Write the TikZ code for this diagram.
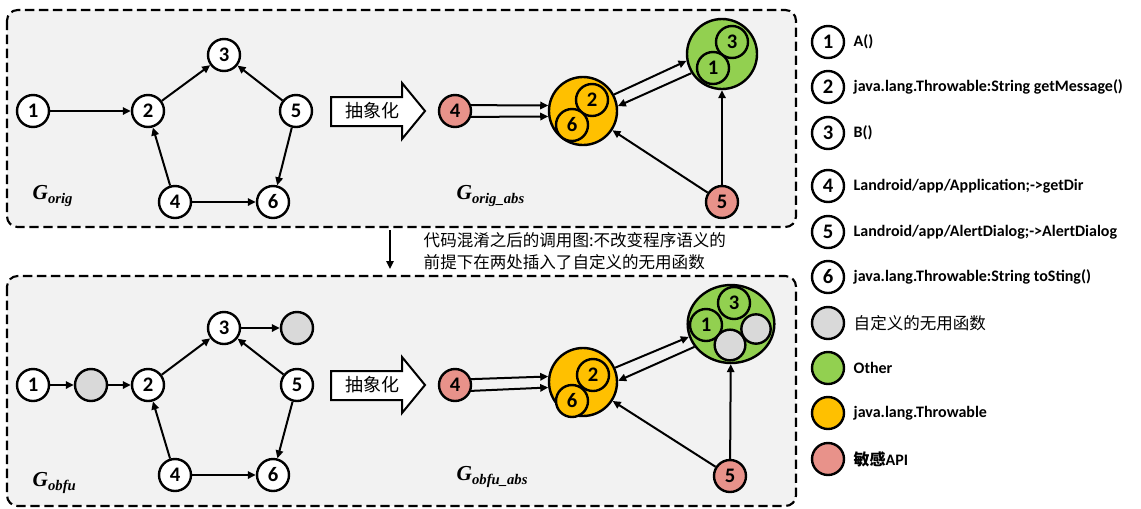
\documentclass[tikz,border=0pt]{standalone}
\usepackage{fontspec}
\setmainfont{Carlito}
\newfontfamily\cjk{Noto Sans CJK SC}
\newfontfamily\gfont{Liberation Serif}
\usetikzlibrary{arrows.meta,shapes.geometric}

\definecolor{panelgray}{HTML}{F2F2F2}
\definecolor{dummygray}{HTML}{D9D9D9}
\definecolor{othergreen}{HTML}{92D050}
\definecolor{throwyellow}{HTML}{FFC000}
\definecolor{apired}{HTML}{E8928A}

\newcommand{\gname}[1]{{\gfont\bfseries\itshape G\raisebox{-3.5pt}{\fontsize{11}{11}\selectfont #1}}}

\tikzset{
  fn/.style={circle, draw, line width=1.8pt, fill=white, minimum size=24pt, inner sep=0pt,
    font=\fontsize{15.5}{15.5}\selectfont\bfseries},
  dummy/.style={fn, fill=dummygray},
  api/.style={fn, fill=apired},
  infn/.style={fn, fill=#1},
  group/.style={circle, draw, line width=1.8pt, fill=#1, inner sep=0pt},
  edge/.style={-{Triangle[length=6pt,width=5.5pt]}, line width=1.5pt},
  panel/.style={draw, line width=1.6pt, dash pattern=on 7pt off 3.5pt, rounded corners=8pt, fill=panelgray},
  abstr/.style={draw, line width=1.5pt, fill=white},
  legtext/.style={anchor=west, font=\fontsize{12}{12}\selectfont\bfseries},
  glabel/.style={anchor=base west, font=\fontsize{16}{16}\selectfont},
}

\begin{document}
\begin{tikzpicture}[x=0.75pt, y=-0.75pt]
\useasboundingbox (0,0) rectangle (1141,508);

% panels
\draw[panel] (7,10) rectangle (796,227);
\draw[panel] (7,276) rectangle (796,506);

% original call graph
\node[fn] (o1) at (33,111) {1};
\node[fn] (o2) at (148,111) {2};
\node[fn] (o3) at (224,55) {3};
\node[fn] (o5) at (296,111) {5};
\node[fn] (o4) at (175,202) {4};
\node[fn] (o6) at (273,202) {6};
\draw[edge] (o1) -- (o2);
\draw[edge] (o2) -- (o3);
\draw[edge] (o5) -- (o3);
\draw[edge] (o5) -- (o6);
\draw[edge] (o4) -- (o2);
\draw[edge] (o4) -- (o6);
\node[glabel] (gorig) at (28,199) {\gname{orig}};

\draw[abstr] (331,97) -- (402,97) -- (402,83) -- (425,111) -- (402,139) -- (402,126) -- (331,126) -- cycle;
\node[font=\cjk\fontsize{13.5}{13.5}\selectfont] (abs1) at (372,111) {抽象化};

% abstracted original graph
\node[api] (ar4) at (455,111) {4};
\node[group=throwyellow, minimum size=51pt] (ya) at (583,111) {};
\node[infn=throwyellow] (ya2) at (592,100) {2};
\node[infn=throwyellow] (ya6) at (572,125) {6};
\node[group=othergreen, minimum size=52.5pt] (ga) at (722,54) {};
\node[infn=othergreen] (ga3) at (732,42) {3};
\node[infn=othergreen] (ga1) at (713,68) {1};
\node[api] (ar5) at (722,202) {5};
\draw[edge] (ar4.20) -- (ya.171);
\draw[edge] (ar4.-20) -- (ya.189);
\draw[edge] (ya.28) -- (ga.191);
\draw[edge] (ga.212) -- (ya.8);
\draw[edge] (ar5) -- (ya);
\draw[edge] (ar5) -- (ga);
\node[glabel] (gorigabs) at (452,199) {\gname{orig\_abs}};

% step between the two graphs
\coordinate (dnS) at (390,230);
\coordinate (dnE) at (390,269);
\draw[edge] (dnS) -- (dnE);
\node[anchor=west, align=left, font=\cjk\fontsize{12.4}{16.5}\selectfont] (note) at (419,251)
  {代码混淆之后的调用图:不改变程序语义的\\前提下在两处插入了自定义的无用函数};

% obfuscated call graph
\node[fn] (b1) at (33,385) {1};
\node[dummy] (bd1) at (91,385) {};
\node[fn] (b2) at (148,385) {2};
\node[fn] (b3) at (224,328) {3};
\node[dummy] (bd2) at (297,328) {};
\node[fn] (b5) at (297,385) {5};
\node[fn] (b4) at (175,475) {4};
\node[fn] (b6) at (273,475) {6};
\draw[edge] (b1) -- (bd1);
\draw[edge] (bd1) -- (b2);
\draw[edge] (b2) -- (b3);
\draw[edge] (b3) -- (bd2);
\draw[edge] (b5) -- (b3);
\draw[edge] (b5) -- (b6);
\draw[edge] (b4) -- (b2);
\draw[edge] (b4) -- (b6);
\node[glabel] (gobfu) at (28,486) {\gname{obfu}};

\draw[abstr] (331,371) -- (402,371) -- (402,357) -- (425,385) -- (402,413) -- (402,400) -- (331,400) -- cycle;
\node[font=\cjk\fontsize{13.5}{13.5}\selectfont] (abs2) at (372,385) {抽象化};

% abstracted obfuscated graph
\node[api] (br4) at (455,385) {4};
\node[group=throwyellow, minimum size=51pt] (yb) at (583,382) {};
\node[infn=throwyellow] (yb2) at (593,375) {2};
\node[infn=throwyellow] (yb6) at (572,401) {6};
\node[ellipse, draw, line width=1.8pt, fill=othergreen, minimum width=65pt, minimum height=58.5pt, inner sep=0pt] (gob) at (731,324) {};
\node[infn=othergreen] (gb3) at (734,303) {3};
\node[infn=othergreen] (gb1) at (706,325) {1};
\node[dummy, minimum size=22pt] (gbd1) at (756,329) {};
\node[dummy, minimum size=23pt] (gbd2) at (730,345) {};
\node[api] (br5) at (730,476) {5};
\draw[edge] (br4.20) -- (yb.171);
\draw[edge] (br4.-20) -- (yb.189);
\draw[edge] (yb.24) -- (gob.197);
\draw[edge] (gob.212) -- (yb.2);
\draw[edge] (br5) -- (yb);
\draw[edge] (br5) -- (gob);
\node[glabel] (gobfuabs) at (452,480) {\gname{obfu\_abs}};

% legend
\node[fn] (k1) at (828,42) {1};
\node[legtext] (t1) at (849,42) {A()};
\node[fn] (k2) at (828,87) {2};
\node[legtext] (t2) at (849,87) {java.lang.Throwable:String getMessage()};
\node[fn] (k3) at (828,133) {3};
\node[legtext] (t3) at (849,133) {B()};
\node[fn] (k4) at (828,186) {4};
\node[legtext] (t4) at (849,186) {Landroid/app/Application;->getDir};
\node[fn] (k5) at (828,232) {5};
\node[legtext] (t5) at (849,232) {Landroid/app/AlertDialog;->AlertDialog};
\node[fn] (k6) at (828,277) {6};
\node[legtext] (t6) at (849,277) {java.lang.Throwable:String toSting()};
\node[dummy] (k7) at (828,323) {};
\node[legtext, font=\cjk\fontsize{12.4}{12.4}\selectfont] (t7) at (849,323) {自定义的无用函数};
\node[group=othergreen, minimum size=24pt] (k8) at (828,368) {};
\node[legtext] (t8) at (849,368) {Other};
\node[group=throwyellow, minimum size=24pt] (k9) at (828,413) {};
\node[legtext] (t9) at (849,413) {java.lang.Throwable};
\node[api] (k10) at (828,459) {};
\node[legtext] (t10) at (849,459) {{\cjk 敏感}API};
\end{tikzpicture}
\end{document}
